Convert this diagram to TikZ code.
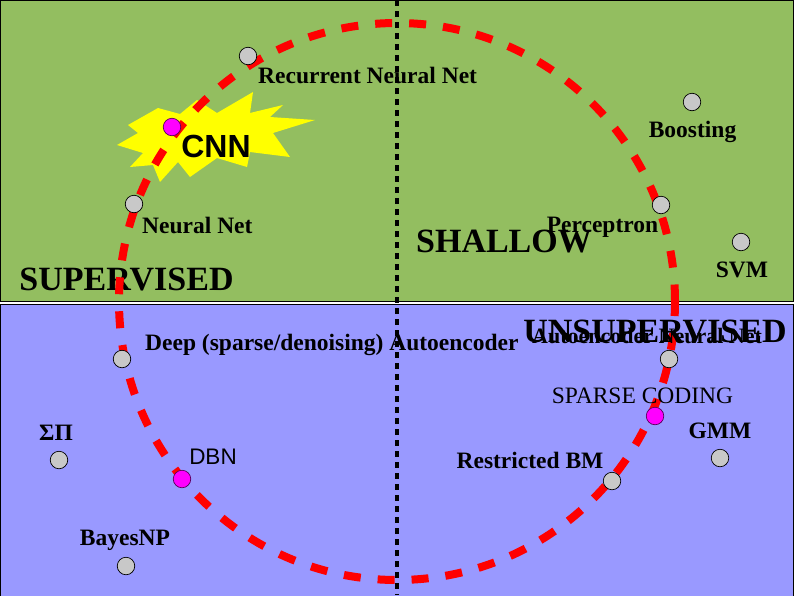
\documentclass[tikz,border=0pt]{standalone}
\usepackage{fontspec}
\setmainfont{Liberation Serif}
\newfontfamily\arialfont{Liberation Sans}
\definecolor{bggreen}{RGB}{147,190,96}
\definecolor{bgblue}{RGB}{153,153,255}
\definecolor{dotgray}{RGB}{200,200,200}
\definecolor{hotpink}{RGB}{255,0,255}
\definecolor{burst}{RGB}{255,255,0}
\begin{document}
\begin{tikzpicture}[x=1pt,y=-1pt,
  dot/.style={circle,draw=black,line width=0.7pt,fill=dotgray,minimum size=17.5pt,inner sep=0pt},
  hotdot/.style={dot,fill=hotpink,draw={rgb,255:red,90;green,0;blue,90}},
  lbl/.style={font=\fontsize{23.5}{28}\selectfont\bfseries,inner sep=0pt,anchor=base},
  lblreg/.style={font=\fontsize{23.5}{28}\selectfont,inner sep=0pt,anchor=base},
  bigtxt/.style={font=\fontsize{34}{40}\selectfont\bfseries,inner sep=0pt,anchor=base},
  panel/.style={draw=black,line width=1pt},
  loop/.style={draw=red,line width=8pt,dash pattern=on 17pt off 17pt,dash phase=0pt},
  axisline/.style={draw=black,line width=4.5pt,dash pattern=on 6pt off 5pt}]
\useasboundingbox (0,0) rectangle (794,595);
% panels
\fill[white] (0,0) rectangle (794,595);
\path[panel,fill=bggreen] (0.5,0.5) rectangle (793.5,301.5);
\path[panel,fill=bgblue] (0.5,304.5) rectangle (793.5,596);
% vertical axis
\coordinate (vtop) at (397,0);
\coordinate (vbot) at (397,595);
\draw[axisline] (vtop) -- (vbot);
% starburst
\fill[burst] (117,145) -- (138,133) -- (128,125) -- (158,108) -- (180,114) -- (197,100)
  -- (217,113) -- (253,92) -- (250,113) -- (283,105) -- (270,117) -- (315,120)
  -- (273,133) -- (290,157) -- (250,152) -- (247,167) -- (217,158) -- (190,177)
  -- (178,162) -- (160,182) -- (153,165) -- (130,167) -- (143,153) -- cycle;
% SUPERVISED under the loop
\node[bigtxt] (sup) at (126.5,290) {SUPERVISED};
% dashed loop
\coordinate (ec) at (397,301.5);
\path[loop] (ec) ellipse [x radius=278pt, y radius=278.5pt];
% big labels
\node[bigtxt] (shallow) at (504,252) {SHALLOW};
\node[bigtxt] (unsup) at (655,342) {UNSUPERVISED};
% dots
\node[dot] (rnn) at (248,56) {};
\node[hotdot] (cnn) at (172,127) {};
\node[dot] (nn) at (134,204) {};
\node[dot] (boost) at (692,102) {};
\node[dot] (perc) at (661,205) {};
\node[dot] (svm) at (741,242) {};
\node[dot] (deep) at (122,359) {};
\node[dot] (autonn) at (669,359) {};
\node[hotdot] (sparse) at (655,416) {};
\node[dot] (gmm) at (720,458) {};
\node[dot] (rbm) at (612,481) {};
\node[dot] (sigpi) at (59,460) {};
\node[hotdot] (dbn) at (182,479) {};
\node[dot] (bayes) at (126,566) {};
% labels
\node[lbl,anchor=base west] (rnnl) at (258,83) {Recurrent Neural Net};
\node[inner sep=0pt,anchor=base,font=\arialfont\fontsize{32}{36}\selectfont\bfseries] (cnnl) at (216,157) {CNN};
\node[lbl,anchor=base west] (nnl) at (142,233) {Neural Net};
\node[lbl] (boostl) at (692.5,137) {Boosting};
\node[lbl] (percl) at (602.5,232) {Perceptron};
\node[lbl] (svml) at (742,277) {SVM};
\node[lbl,anchor=base west] (deepl) at (145,350) {Deep (sparse/denoising) Autoencoder};
\node[lbl,anchor=base west,font=\fontsize{22}{26}\selectfont\bfseries] (autonnl) at (532,343) {Autoencoder Neural Net};
\node[lblreg] (sparsel) at (642.5,403) {SPARSE CODING};
\node[lbl] (gmml) at (720,438) {GMM};
\node[lbl] (rbml) at (530,468) {Restricted BM};
\node[lbl] (sigpil) at (56,440) {ΣΠ};
\node[inner sep=0pt,anchor=base,font=\arialfont\fontsize{22.5}{26}\selectfont] (dbnl) at (213,464) {DBN};
\node[lbl] (bayesl) at (125,545) {BayesNP};
\end{tikzpicture}
\end{document}
